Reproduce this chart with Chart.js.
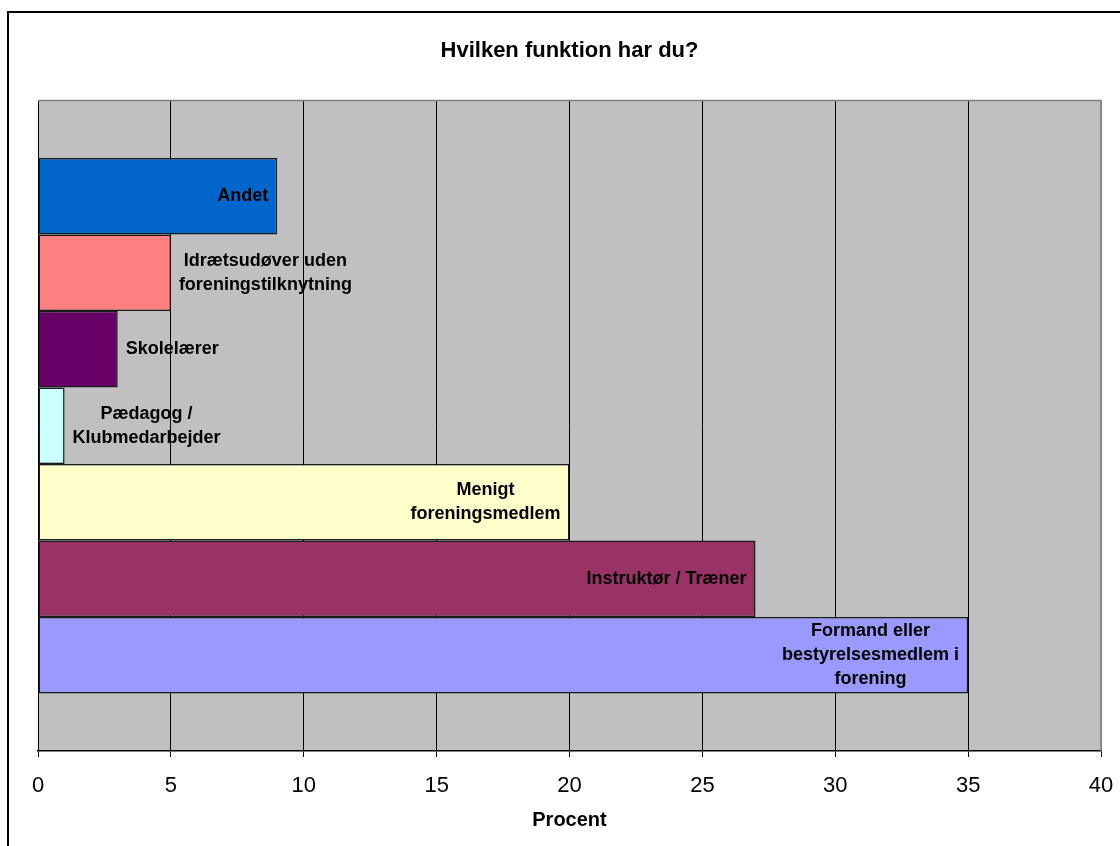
<!DOCTYPE html>
<html>
<head>
<meta charset="utf-8">
<script src="https://cdn.jsdelivr.net/npm/chart.js@4/dist/chart.umd.min.js"></script>
<style>
    html, body { margin: 0; padding: 0; background: #fff; }
    #wrap { width: 1120px; height: 846px; }
</style>
</head>
<body>
<div id="wrap"><canvas id="chart" width="1120" height="846"></canvas></div>
<script>
// ---- Data ----
const chartTitle = 'Hvilken funktion har du?';
const axisTitle = 'Procent';

// one line per entry, as the labels wrap in the picture
const functionLabels = [
    ['Andet'],
    ['Idrætsudøver uden', 'foreningstilknytning'],
    ['Skolelærer'],
    ['Pædagog /', 'Klubmedarbejder'],
    ['Menigt', 'foreningsmedlem'],
    ['Instruktør / Træner'],
    ['Formand eller', 'bestyrelsesmedlem i', 'forening']
];
const percentValues = [9, 5, 3, 1, 20, 27, 35];

const xMin = 0;
const xMax = 40;
const xStep = 5;

// ---- Styles ----
const barColors = ['#0066CC', '#FF8080', '#660066', '#CCFFFF', '#FFFFCC', '#993366', '#9999FF'];
const FONT = 'Liberation Sans, Arial, sans-serif';

const frameAndPlot = {
    id: 'frameAndPlot',
    beforeDraw(chart) {
        const { ctx, chartArea: a } = chart;
        ctx.save();
        ctx.fillStyle = '#C0C0C0';
        ctx.fillRect(a.left, a.top, a.right - a.left, a.bottom - a.top);
        // outer chart frame (only top and left edges are visible)
        ctx.strokeStyle = '#000';
        ctx.lineWidth = 2;
        ctx.beginPath();
        ctx.moveTo(8, chart.height + 2);
        ctx.lineTo(8, 12);
        ctx.lineTo(chart.width + 2, 12);
        ctx.stroke();
        ctx.restore();
    },
    afterDraw(chart) {
        const { ctx, chartArea: a } = chart;
        ctx.save();
        ctx.strokeStyle = '#808080';
        ctx.lineWidth = 1.5;
        ctx.beginPath();
        ctx.moveTo(a.left, a.top);
        ctx.lineTo(a.right, a.top);
        ctx.lineTo(a.right, a.bottom);
        ctx.stroke();
        ctx.restore();
    }
};

// names written at the end of each bar, inside when they fit
const barNames = {
    id: 'barNames',
    afterDatasetsDraw(chart) {
        const ctx = chart.ctx;
        const lineH = 24;
        ctx.save();
        ctx.font = `bold 18px ${FONT}`;
        ctx.fillStyle = '#000';
        ctx.textAlign = 'center';
        ctx.textBaseline = 'middle';
        chart.data.datasets.forEach((ds, i) => {
            const bar = chart.getDatasetMeta(i).data[0];
            const lines = functionLabels[i];
            const w = Math.max(...lines.map(l => ctx.measureText(l).width));
            const barLen = bar.x - bar.base;
            const cx = (w + 18 < barLen) ? bar.x - 9 - w / 2 : bar.x + 8 + w / 2;
            const top = bar.y - (lines.length - 1) * lineH / 2;
            lines.forEach((l, k) => ctx.fillText(l, cx, top + k * lineH));
        });
        ctx.restore();
    }
};

new Chart(document.getElementById('chart'), {
    type: 'bar',
    data: {
        labels: [''],
        datasets: functionLabels.map((lines, i) => ({
            label: lines.join(' '),
            data: [percentValues[i]],
            backgroundColor: barColors[i],
            borderColor: '#1a1a1a',
            borderWidth: 1.5,
            borderSkipped: false,
            categoryPercentage: 0.823,
            barPercentage: 1
        }))
    },
    options: {
        indexAxis: 'y',
        responsive: false,
        animation: false,
        layout: { padding: { left: 38, right: 19, top: 12, bottom: 14 } },
        plugins: {
            legend: { display: false },
            tooltip: { enabled: false },
            title: {
                display: true,
                text: chartTitle,
                fullSize: false,
                color: '#000',
                font: { family: FONT, size: 22, weight: 'bold' },
                padding: { top: 26, bottom: 36 }
            }
        },
        scales: {
            x: {
                min: xMin,
                max: xMax,
                afterFit: scale => {
                    scale.height = 81;
                    scale.paddingLeft = 0;
                    scale.paddingRight = 0;
                },
                ticks: {
                    stepSize: xStep,
                    color: '#000',
                    padding: 16,
                    font: { family: FONT, size: 22 }
                },
                grid: {
                    color: c => (c.tick && c.tick.value === xMax) ? '#808080' : '#000',
                    lineWidth: 1,
                    tickLength: 6,
                    tickColor: '#000'
                },
                border: { color: '#000', width: 1.5 },
                title: {
                    display: true,
                    text: axisTitle,
                    color: '#000',
                    font: { family: FONT, size: 20, weight: 'bold' },
                    padding: { top: 6, bottom: 0 }
                }
            },
            y: {
                display: false
            }
        }
    },
    plugins: [frameAndPlot, barNames]
});
</script>
</body>
</html>
